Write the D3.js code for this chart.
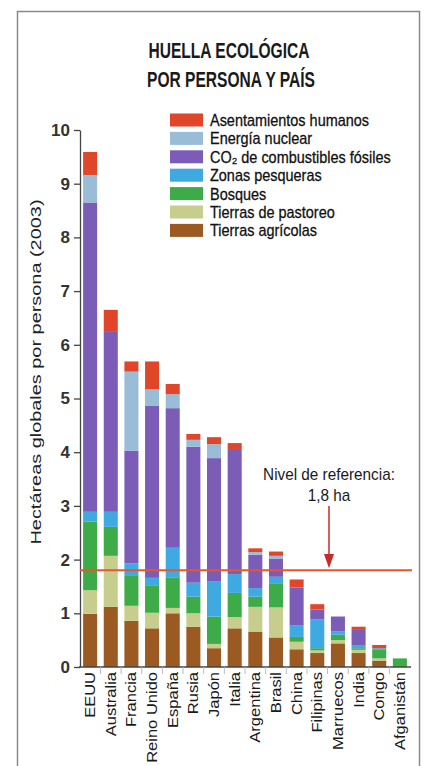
<!DOCTYPE html>
<html lang="es">
<head>
  <meta charset="UTF-8">
  <title>Huella ecológica por persona y país</title>
  <script src="https://cdn.jsdelivr.net/npm/d3@7"></script>
  <style>
    body { margin: 0; background: #fff; }
    svg { display: block; font-family: "Liberation Sans", Arial, sans-serif; }
    .axis text { font-size: 17px; font-weight: bold; fill: #333; }
    .axis path, .axis line { stroke: #444; stroke-width: 1.3; }
  </style>
</head>
<body>
  <div id="chart"></div>

  <script>
    // Datos (hectáreas globales por persona, 2003)
    const countries = ["EEUU", "Australia", "Francia", "Reino Unido", "España", "Rusia", "Japón", "Italia",
      "Argentina", "Brasil", "China", "Filipinas", "Marruecos", "India", "Congo", "Afganistán"];
    const tierrasAgricolas = [0.99, 1.12, 0.86, 0.72, 1.00, 0.75, 0.35, 0.72, 0.66, 0.55, 0.33, 0.26, 0.44, 0.26, 0.12, 0];
    const tierrasPastoreo  = [0.44, 0.95, 0.28, 0.29, 0.10, 0.25, 0.08, 0.21, 0.46, 0.56, 0.14, 0.05, 0.06, 0.06, 0.04, 0];
    const bosques          = [1.28, 0.54, 0.57, 0.50, 0.56, 0.31, 0.51, 0.45, 0.19, 0.45, 0.09, 0.04, 0.10, 0.03, 0.17, 0.16];
    const zonasPesqueras   = [0.18, 0.28, 0.22, 0.15, 0.56, 0.26, 0.65, 0.35, 0.16, 0.12, 0.22, 0.54, 0.06, 0.06, 0.02, 0];
    const co2Combustibles  = [5.76, 3.35, 2.10, 3.20, 2.60, 2.53, 2.30, 2.33, 0.62, 0.34, 0.70, 0.18, 0.28, 0.28, 0, 0];
    const energiaNuclear   = [0.51, 0, 1.47, 0.31, 0.26, 0.13, 0.26, 0, 0.05, 0.05, 0, 0, 0, 0, 0, 0];
    const asentamientos    = [0.43, 0.41, 0.19, 0.52, 0.19, 0.11, 0.13, 0.11, 0.07, 0.08, 0.15, 0.10, 0, 0.06, 0.06, 0];
    const yTicks = [0, 1, 2, 3, 4, 5, 6, 7, 8, 9, 10];
    const nivelReferencia = 1.8;

    // stack order, bottom to top
    const keys = ["agri", "pasto", "bosq", "pesca", "co2", "nuc", "asent"];
    const seriesValues = {
      agri: tierrasAgricolas, pasto: tierrasPastoreo, bosq: bosques, pesca: zonasPesqueras,
      co2: co2Combustibles, nuc: energiaNuclear, asent: asentamientos
    };
    const labels = {
      asent: "Asentamientos humanos", nuc: "Energía nuclear", co2: "CO₂ de combustibles fósiles",
      pesca: "Zonas pesqueras", bosq: "Bosques", pasto: "Tierras de pastoreo", agri: "Tierras agrícolas"
    };
    const colors = {
      agri: "#9a5a22", pasto: "#c7cd8d", bosq: "#3dab47", pesca: "#3fa9e2",
      co2: "#7b5db7", nuc: "#9abdd7", asent: "#e0472a"
    };

    const table = countries.map((c, i) => {
      const row = { country: c };
      keys.forEach(k => row[k] = seriesValues[k][i]);
      return row;
    });

    const width = 424;
    const height = 766;

    const svg = d3.select("#chart")
      .append("svg")
      .attr("width", width)
      .attr("height", height);

    // squeeze / stretch text, the source uses a condensed face
    function condense(sel, f) {
      sel.each(function () {
        const len = this.getComputedTextLength();
        d3.select(this).attr("textLength", len * f).attr("lengthAdjust", "spacingAndGlyphs");
      });
    }

    // frame
    svg.append("rect")
      .attr("x", 17.5).attr("y", 11.5)
      .attr("width", 402).attr("height", 780)
      .attr("fill", "none").attr("stroke", "#8a8a8a").attr("stroke-width", 1.5);

    // title
    const title = svg.append("g")
      .attr("font-size", 22).attr("font-weight", "bold").attr("fill", "#1a1a1a")
      .attr("text-anchor", "middle");
    title.append("text").attr("x", 229).attr("y", 58)
      .attr("textLength", 161).attr("lengthAdjust", "spacingAndGlyphs")
      .text("HUELLA ECOLÓGICA");
    title.append("text").attr("x", 231).attr("y", 87)
      .attr("textLength", 168).attr("lengthAdjust", "spacingAndGlyphs")
      .text("POR PERSONA Y PAÍS");

    // scales
    const x = d3.scaleBand()
      .domain(countries)
      .range([80, 410])
      .paddingInner(0.32)
      .paddingOuter(0.15);

    const y = d3.scaleLinear()
      .domain([0, 10])
      .range([667, 130]);

    const stacked = d3.stack().keys(keys)(table);

    // bars
    svg.append("g")
      .selectAll("g")
      .data(stacked)
      .join("g")
      .attr("fill", d => colors[d.key])
      .selectAll("rect")
      .data(d => d)
      .join("rect")
      .attr("x", d => x(d.data.country))
      .attr("y", d => y(d[1]))
      .attr("width", x.bandwidth())
      .attr("height", d => y(d[0]) - y(d[1]));

    // y axis
    svg.append("g")
      .attr("class", "axis")
      .attr("transform", "translate(80,0)")
      .call(d3.axisLeft(y).tickValues(yTicks).tickSize(6).tickSizeOuter(0).tickPadding(4));

    // x axis baseline and separators
    svg.append("line")
      .attr("x1", 79).attr("x2", 411)
      .attr("y1", y(0)).attr("y2", y(0))
      .attr("stroke", "#444").attr("stroke-width", 1.5);

    svg.append("g")
      .selectAll("line")
      .data(countries.slice(1))
      .join("line")
      .attr("x1", d => x(d) - x.step() * 0.16)
      .attr("x2", d => x(d) - x.step() * 0.16)
      .attr("y1", y(0)).attr("y2", y(0) + 7)
      .attr("stroke", "#bbb").attr("stroke-width", 1);

    // country labels
    svg.append("g")
      .selectAll("text")
      .data(countries)
      .join("text")
      .attr("transform", d => `translate(${x(d) + x.bandwidth() / 2 + 5},672) rotate(-90)`)
      .attr("text-anchor", "end")
      .attr("font-size", 15)
      .attr("fill", "#1a1a1a")
      .text(d => d)
      .call(condense, 1.1);

    // y axis title
    svg.append("text")
      .attr("transform", "translate(41,372) rotate(-90)")
      .attr("text-anchor", "middle")
      .attr("font-size", 15)
      .attr("fill", "#222")
      .attr("textLength", 345).attr("lengthAdjust", "spacingAndGlyphs")
      .text("Hectáreas globales por persona (2003)");

    // reference line
    svg.append("line")
      .attr("x1", 80).attr("x2", 412)
      .attr("y1", y(nivelReferencia)).attr("y2", y(nivelReferencia))
      .attr("stroke", "#e8552f").attr("stroke-width", 2);

    const note = svg.append("g").attr("text-anchor", "middle").attr("font-size", 17).attr("fill", "#1a1a1a");
    note.append("text").attr("x", 329).attr("y", 480).text("Nivel de referencia:").call(condense, 0.9);
    note.append("text").attr("x", 329).attr("y", 501).text("1,8 ha").call(condense, 0.9);

    svg.append("line")
      .attr("x1", 329).attr("x2", 329)
      .attr("y1", 506).attr("y2", 556)
      .attr("stroke", "#c62a2a").attr("stroke-width", 1.5);
    svg.append("path")
      .attr("d", `M324,554 L334,554 L329,${y(nivelReferencia) - 2} Z`)
      .attr("fill", "#c62a2a");

    // legend
    const legendKeys = keys.slice().reverse();
    const legend = svg.append("g")
      .selectAll("g")
      .data(legendKeys)
      .join("g")
      .attr("transform", (d, i) => `translate(170,${120 + i * 18.4})`);

    legend.append("rect")
      .attr("x", 0).attr("y", -6.5)
      .attr("width", 33).attr("height", 13)
      .attr("fill", d => colors[d]);

    legend.append("text")
      .attr("x", 40).attr("y", 6)
      .attr("font-size", 17)
      .attr("fill", "#111")
      .attr("stroke", "#111").attr("stroke-width", 0.3)
      .text(d => labels[d])
      .call(condense, 0.85);
  </script>
</body>
</html>
